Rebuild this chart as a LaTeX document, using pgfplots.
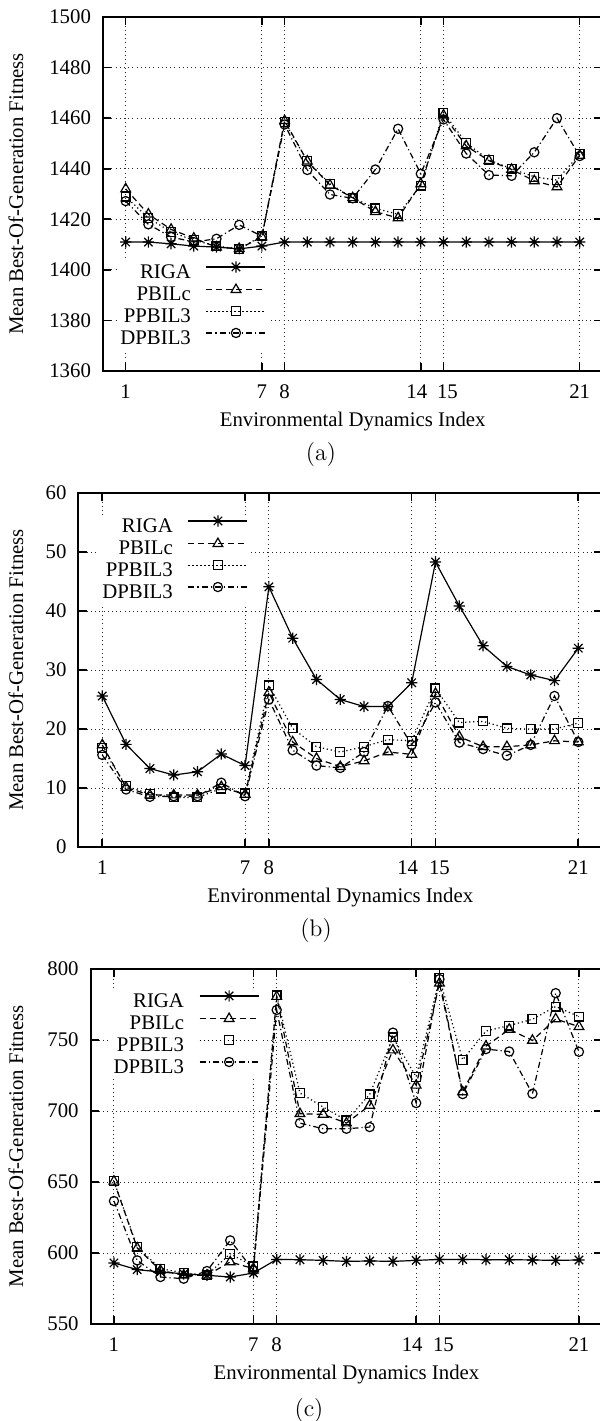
\documentclass[border=0pt]{standalone}
\usepackage{fontspec}
\newfontfamily\timesfont{Liberation Serif}
\usepackage{pgfplots}
\pgfplotsset{compat=1.18}

\pgfdeclareplotmark{gpstar}{%
  \pgfpathmoveto{\pgfqpoint{-\pgfplotmarksize}{0pt}}\pgfpathlineto{\pgfqpoint{\pgfplotmarksize}{0pt}}%
  \pgfpathmoveto{\pgfqpoint{0pt}{-\pgfplotmarksize}}\pgfpathlineto{\pgfqpoint{0pt}{\pgfplotmarksize}}%
  \pgfpathmoveto{\pgfqpoint{-0.75\pgfplotmarksize}{-0.75\pgfplotmarksize}}\pgfpathlineto{\pgfqpoint{0.75\pgfplotmarksize}{0.75\pgfplotmarksize}}%
  \pgfpathmoveto{\pgfqpoint{-0.75\pgfplotmarksize}{0.75\pgfplotmarksize}}\pgfpathlineto{\pgfqpoint{0.75\pgfplotmarksize}{-0.75\pgfplotmarksize}}%
  \pgfusepathqstroke}

\pgfplotsset{
  common/.style={
    scale only axis,
    font=\timesfont\fontsize{10.4}{12.5}\selectfont,
    axis line style={line width=1pt},
    tick align=inside,
    major tick length=4pt,
    every tick/.style={black, line width=0.8pt},
    xtick={1,7,8,14,15,21},
    xticklabels={1,7,8,14\kern4pt,\kern4pt15,21},
    xmin=0, xmax=22,
    grid=major,
    grid style={black!85, line width=0.45pt, dash pattern=on 0.5pt off 1.6pt},
    xlabel={Environmental Dynamics Index},
    ylabel={Mean Best-Of-Generation Fitness},
    scaled y ticks=false,
    tick label style={font=\timesfont\fontsize{10.4}{12.5}\selectfont},
    xticklabel style={anchor=center, yshift=-10.5pt},
    yticklabel style={xshift=-2.5pt},
    every axis x label/.style={at={(rel axis cs:0.5,0)}, anchor=center, yshift=-25.5pt},
    legend cell align=right,
    legend plot pos=right,
    legend image code/.code={\draw[mark repeat=2,mark phase=2,##1] plot coordinates {(0pt,3.4pt) (14.75pt,3.4pt) (29.5pt,3.4pt)};},
    legend style={draw=none, fill=white, inner xsep=1.5pt, inner ysep=0pt,
      column sep=7.5pt, row sep=0pt,
      font=\timesfont\fontsize{10.4}{12.5}\selectfont,
      nodes={inner sep=0pt, text height=7.35pt, text depth=3pt}},
  },
  riga/.style={black, line width=0.6pt, solid, mark=gpstar, mark size=2.8pt, mark options={solid}},
  pbilc/.style={black, line width=0.6pt, dash pattern=on 3pt off 2pt, mark=triangle, mark size=2.8pt, mark options={solid}},
  ppbil/.style={black, line width=0.6pt, dash pattern=on 0.6pt off 1.4pt, mark=square, mark size=2.2pt, mark options={solid}},
  dpbil/.style={black, line width=0.6pt, dash pattern=on 3pt off 1.5pt on 0.6pt off 1.5pt, mark=o, mark size=2.3pt, mark options={solid}},
}

\begin{document}
\begin{tikzpicture}
\path[use as bounding box] (0pt,0pt) rectangle (300pt,-710.5pt);

% ---------- (a) ----------
\begin{axis}[common, at={(51.5pt,-8.5pt)}, anchor=north west,
  width=249.7pt, height=177pt,
  ymin=1360, ymax=1500, ytick={1360,1380,...,1500},
  yticklabels={1360,1380,1400,1420,1440,1460,1480,1500},
  every axis y label/.style={at={(rel axis cs:0,0.5)}, xshift=-43.5pt, rotate=90, anchor=center},
  legend style={at={(axis description cs:0.028,0.311)}, anchor=north west}]
\addplot[riga] coordinates {(1,1411)(2,1411)(3,1410.3)(4,1409.4)(5,1409)(6,1408.3)(7,1409.4)(8,1411)(9,1411)(10,1411)(11,1411)(12,1411)(13,1411)(14,1411)(15,1411)(16,1411)(17,1411)(18,1411)(19,1411)(20,1411)(21,1411)};
\addplot[pbilc] coordinates {(1,1432)(2,1422)(3,1416)(4,1412.5)(5,1409)(6,1408.4)(7,1413)(8,1459)(9,1443)(10,1433.5)(11,1428.5)(12,1423)(13,1420.5)(14,1434)(15,1461.2)(16,1449)(17,1443.2)(18,1439.7)(19,1435.2)(20,1432.8)(21,1445.3)};
\addplot[ppbil] coordinates {(1,1429)(2,1420.5)(3,1415)(4,1411.7)(5,1409.5)(6,1408.2)(7,1413.5)(8,1458.5)(9,1443)(10,1434)(11,1428.5)(12,1424.3)(13,1422)(14,1433.3)(15,1462.2)(16,1450.2)(17,1443.5)(18,1440)(19,1436.8)(20,1435.5)(21,1445.8)};
\addplot[dpbil] coordinates {(1,1427.2)(2,1418)(3,1413)(4,1411)(5,1412.3)(6,1417.8)(7,1413.3)(8,1457.5)(9,1439.5)(10,1429.8)(11,1428.3)(12,1439.7)(13,1455.8)(14,1438)(15,1459.5)(16,1446)(17,1437.5)(18,1437.2)(19,1446.5)(20,1460)(21,1445)};
\legend{RIGA,PBILc,PPBIL3,DPBIL3}
\end{axis}
\node[font=\fontsize{12}{14}\selectfont] at (160.5pt,-227.5pt) {(a)};

% ---------- (b) ----------
\begin{axis}[common, at={(39.25pt,-246.5pt)}, anchor=north west,
  width=261.8pt, height=177pt,
  ymin=0, ymax=60, ytick={0,10,...,60},
  yticklabels={0,10,20,30,40,50,60},
  every axis y label/.style={at={(rel axis cs:0,0.5)}, xshift=-31.25pt, rotate=90, anchor=center},
  legend style={at={(axis description cs:0.039,0.938)}, anchor=north west}]
\addplot[riga] coordinates {(1,25.6)(2,17.4)(3,13.3)(4,12.2)(5,12.75)(6,15.75)(7,13.8)(8,44.1)(9,35.4)(10,28.4)(11,25.0)(12,23.8)(13,23.8)(14,27.85)(15,48.3)(16,40.85)(17,34.1)(18,30.6)(19,29.15)(20,28.2)(21,33.7)};
\addplot[pbilc] coordinates {(1,17.3)(2,10.1)(3,8.8)(4,8.8)(5,8.8)(6,10.2)(7,8.9)(8,26.2)(9,17.8)(10,15.0)(11,13.6)(12,14.6)(13,16.1)(14,15.7)(15,26.0)(16,18.7)(17,17.0)(18,17.0)(19,17.3)(20,18.0)(21,17.8)};
\addplot[ppbil] coordinates {(1,16.8)(2,10.3)(3,9.0)(4,8.4)(5,8.4)(6,9.9)(7,9.1)(8,27.4)(9,20.1)(10,17.0)(11,16.1)(12,17.0)(13,18.2)(14,18.0)(15,26.9)(16,21.1)(17,21.3)(18,20.1)(19,20.0)(20,20.0)(21,21.0)};
\addplot[dpbil] coordinates {(1,15.6)(2,9.75)(3,8.5)(4,8.6)(5,8.6)(6,10.9)(7,8.6)(8,25.0)(9,16.4)(10,13.8)(11,13.4)(12,16.1)(13,23.9)(14,17.3)(15,24.5)(16,17.7)(17,16.6)(18,15.5)(19,17.3)(20,25.6)(21,17.8)};
\legend{RIGA,PBILc,PPBIL3,DPBIL3}
\end{axis}
\node[font=\fontsize{12}{14}\selectfont] at (158pt,-465pt) {(b)};

% ---------- (c) ----------
\begin{axis}[common, at={(45.35pt,-484.5pt)}, anchor=north west,
  width=255.75pt, height=177.5pt,
  ymin=550, ymax=800, ytick={550,600,...,800},
  yticklabels={550,600,650,700,750,800},
  every axis y label/.style={at={(rel axis cs:0,0.5)}, xshift=-37.35pt, rotate=90, anchor=center},
  legend style={at={(axis description cs:0.038,0.941)}, anchor=north west}]
\addplot[riga] coordinates {(1,593)(2,588.3)(3,586.6)(4,585.4)(5,584.3)(6,583.1)(7,585.9)(8,595.5)(9,595.3)(10,594.8)(11,594.1)(12,594.4)(13,594.1)(14,594.8)(15,595.5)(16,595.5)(17,595.3)(18,595.3)(19,595.1)(20,594.8)(21,595.1)};
\addplot[pbilc] coordinates {(1,650.5)(2,603.5)(3,587.8)(4,584.3)(5,584.3)(6,593.7)(7,589)(8,780.6)(9,698.1)(10,697.6)(11,691.5)(12,703.9)(13,742.9)(14,718.1)(15,790)(16,713.4)(17,745.6)(18,757.5)(19,749.7)(20,764.8)(21,759.4)};
\addplot[ppbil] coordinates {(1,650.7)(2,604.2)(3,589)(4,586)(5,584.3)(6,599.5)(7,590.6)(8,781.4)(9,712.7)(10,702.8)(11,693.4)(12,711.7)(13,751.9)(14,724)(15,793.6)(16,736)(17,756.3)(18,760.2)(19,764.6)(20,773.6)(21,766.5)};
\addplot[dpbil] coordinates {(1,636.6)(2,594.8)(3,583.1)(4,581.9)(5,587.3)(6,608.9)(7,587.8)(8,771.2)(9,691.5)(10,687.5)(11,687.5)(12,688.7)(13,755.2)(14,705.6)(15,792.9)(16,711.9)(17,743.6)(18,741.9)(19,712.2)(20,783)(21,741.7)};
\legend{RIGA,PBILc,PPBIL3,DPBIL3}
\end{axis}
\node[font=\fontsize{12}{14}\selectfont] at (154.5pt,-705pt) {(c)};
\end{tikzpicture}
\end{document}
